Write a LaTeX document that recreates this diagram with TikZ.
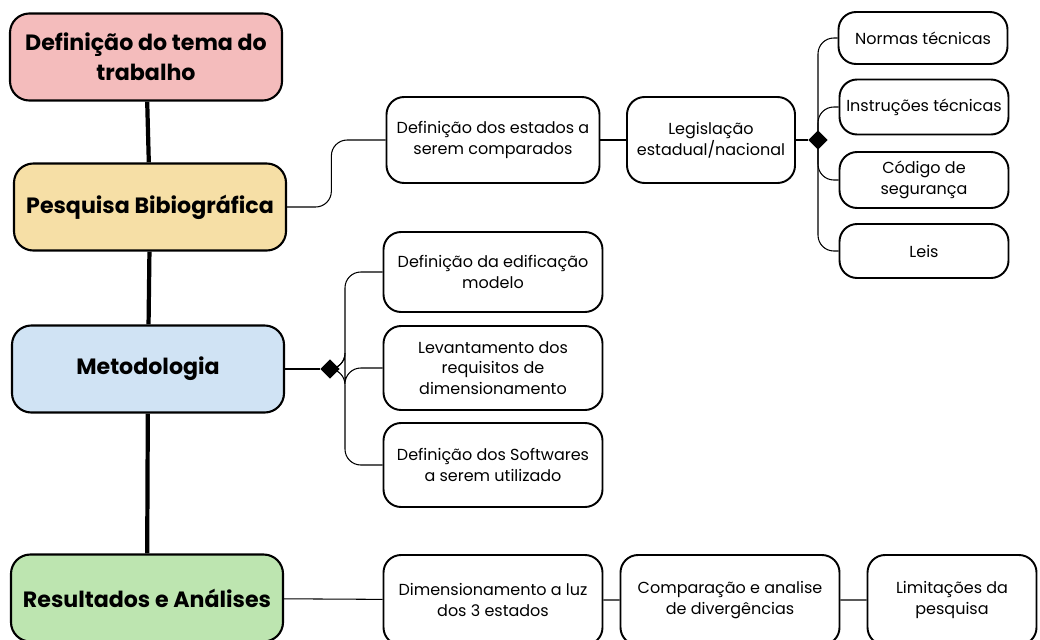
\documentclass[tikz,border=0pt]{standalone}
\usepackage{fontspec}
\setmainfont{Poppins}
\usetikzlibrary{calc}
\usetikzlibrary{shapes.geometric}
\definecolor{temacor}{HTML}{F4BCBC}
\definecolor{pesqcor}{HTML}{F6DFA6}
\definecolor{metocor}{HTML}{D0E3F4}
\definecolor{rescor}{HTML}{BDE5B0}

\tikzset{
	etapa/.style={draw, line width=1.2pt, rounded corners=11pt, minimum width=272\px, minimum height=87\px, inner sep=2pt, align=center, font=\fontsize{12.6}{17}\selectfont\bfseries},
	caixa/.style={draw, line width=1.1pt, rounded corners=10pt, inner sep=2pt, align=center, font=\fontsize{9.1}{11.8}\selectfont},
	losango/.style={diamond, fill=black, inner sep=0pt, minimum size=11pt},
	liga/.style={line width=0.6pt, rounded corners=9pt}
}
\newlength{\px}
\setlength{\px}{0.02cm}

\begin{document}
\begin{tikzpicture}[x=0.02cm, y=-0.02cm]
		\useasboundingbox (0, 0) rectangle (1040, 639);
		% etapas principais
		\node[etapa, fill=temacor] (tema) at (146, 57) {Definição do tema do\\trabalho};
		\node[etapa, fill=pesqcor] (pesq) at (150, 207) {Pesquisa Bibiográfica};
		\node[etapa, fill=metocor] (meto) at (148, 369) {Metodologia};
		\node[etapa, fill=rescor] (res) at (147, 598) {Resultados e Análises};
		\draw[line width=2.4pt] (tema) -- (pesq) -- (meto) -- (res);

		% pesquisa
		\node[caixa, minimum width=213\px, minimum height=86\px] (estados) at (493, 140) {Definição dos estados a\\serem comparados};
		\node[caixa, minimum width=168\px, minimum height=86\px] (legis) at (711, 140) {Legislação\\estadual/nacional};
		\node[losango] (d1) at (818, 140) {};
		\node[caixa, minimum width=169\px, minimum height=52\px] (normas) at (923, 38) {Normas técnicas};
		\node[caixa, minimum width=169\px, minimum height=55\px] (instr) at (924, 107) {Instruções técnicas};
		\node[caixa, minimum width=169\px, minimum height=56\px] (codigo) at (924, 180) {Código de\\segurança};
		\node[caixa, minimum width=169\px, minimum height=54\px] (leis) at (924, 251) {Leis};
		\draw[liga] (pesq.east) -| ($(pesq.east)!0.45!(estados.west)$) |- (estados.west);
		\draw[liga] (estados) -- (legis);
		\draw[liga] (legis.east) -- (d1);
		\foreach \n in {normas, instr, codigo, leis}
			\draw[liga] (d1.center) |- (\n.west);

		% metodologia
		\node[losango] (d2) at (330, 369) {};
		\node[caixa, minimum width=219\px, minimum height=80\px] (edif) at (493, 272) {Definição da edificação\\modelo};
		\node[caixa, minimum width=219\px, minimum height=84\px] (levant) at (493, 368) {Levantamento dos\\requisitos de\\dimensionamento};
		\node[caixa, minimum width=219\px, minimum height=84\px] (soft) at (493, 465) {Definição dos Softwares\\a serem utilizado};
		\draw[line width=1.2pt] (meto) -- (d2);
		\foreach \n in {edif, levant, soft}
			\draw[liga] (d2.center) -- ++(15, 0) |- (\n.west);

		% resultados
		\node[caixa, minimum width=219\px, minimum height=90\px] (dimen) at (493, 600) {Dimensionamento a luz\\dos 3 estados};
		\node[caixa, minimum width=219\px, minimum height=90\px] (compar) at (730, 600) {Comparação e analise\\de divergências};
		\node[caixa, minimum width=169\px, minimum height=90\px] (limit) at (952, 600) {Limitações da\\pesquisa};
		\draw[liga] (res) -- (dimen) -- (compar) -- (limit);
	\end{tikzpicture}
\end{document}
